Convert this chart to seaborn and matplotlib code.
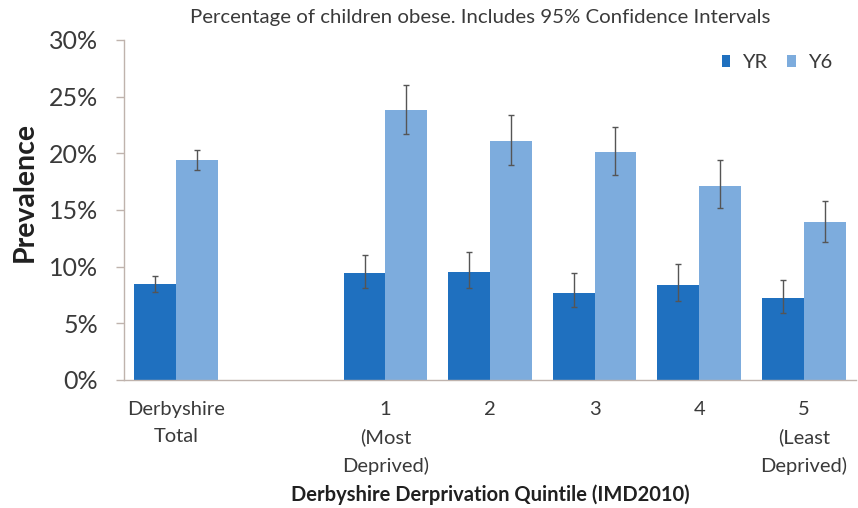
import numpy as np
import pandas as pd
import matplotlib
matplotlib.use("Agg")
import matplotlib.pyplot as plt
import seaborn as sns

# Obesity prevalence (%) by deprivation quintile, Reception (YR) and Year 6 (Y6)
categories = ["Derbyshire\nTotal", "", "1\n(Most\nDeprived)", "2", "3", "4", "5\n(Least\nDeprived)"]
yr_value = [8.5, np.nan, 9.4, 9.5, 7.7, 8.4, 7.2]
yr_low = [7.8, np.nan, 8.1, 8.1, 6.4, 7.0, 5.9]
yr_high = [9.2, np.nan, 11.0, 11.3, 9.4, 10.2, 8.8]
y6_value = [19.4, np.nan, 23.8, 21.1, 20.1, 17.1, 13.9]
y6_low = [18.5, np.nan, 21.7, 19.0, 18.1, 15.2, 12.2]
y6_high = [20.3, np.nan, 26.0, 23.4, 22.3, 19.4, 15.8]
groups = ["YR", "Y6"]
colors = {"YR": "#1f70bf", "Y6": "#7dacdd"}

sns.set_theme(style="white")
plt.rcParams["font.family"] = ["Lato", "DejaVu Sans"]
text_color = "#3a3a3a"

rows = []
for cat, a, b in zip(categories, yr_value, y6_value):
    if not np.isnan(a):
        rows.append({"category": cat, "group": "YR", "value": a})
        rows.append({"category": cat, "group": "Y6", "value": b})
df = pd.DataFrame(rows)

fig = plt.figure(figsize=(8.58, 5.08), dpi=100)
ax = fig.add_axes([0.1445, 0.252, 0.8532, 0.6695])

sns.barplot(data=df, x="category", y="value", hue="group", order=categories,
            hue_order=groups, palette=colors, errorbar=None, width=0.8,
            saturation=1, linewidth=0, ax=ax)

# 95% confidence intervals
pos = np.arange(len(categories))
for g, vals, lo, hi, off in [("YR", yr_value, yr_low, yr_high, -0.2),
                             ("Y6", y6_value, y6_low, y6_high, 0.2)]:
    v = np.array(vals)
    err = np.vstack([v - np.array(lo), np.array(hi) - v])
    ax.errorbar(pos + off, v, yerr=err, fmt="none", ecolor="#555555",
                elinewidth=1, capsize=2.5, capthick=1)

ax.set_ylim(0, 30)
ax.set_xlim(-0.5, len(categories) - 0.5)
ax.set_yticks([0, 5, 10, 15, 20, 25, 30])
ax.set_yticklabels([f"{t}%" for t in [0, 5, 10, 15, 20, 25, 30]],
                   fontsize=18, color=text_color)
ax.set_xticks(pos)
ax.set_xticklabels(categories, fontsize=14.5, color=text_color, linespacing=1.72,
                   va="top")
ax.set_xticks(np.arange(len(categories) + 1) - 0.5, minor=True)
ax.tick_params(axis="x", which="major", length=0, pad=15)
ax.tick_params(axis="x", which="minor", length=5, color="#bfb3ad", width=1)
ax.tick_params(axis="y", which="major", left=True, length=5.5, color="#bfb3ad",
               width=1, pad=13)

for side in ["top", "right"]:
    ax.spines[side].set_visible(False)
for side in ["left", "bottom"]:
    ax.spines[side].set_color("#bfb3ad")
    ax.spines[side].set_linewidth(1)

ax.set_ylabel("Prevalence", fontsize=20.5, fontweight="bold", color="#202020")
ax.yaxis.set_label_coords((38 - 124) / 732, 0.553)
ax.set_xlabel("Derbyshire Derprivation Quintile (IMD2010)", fontsize=14.5,
              fontweight="bold", color="#202020")
ax.xaxis.set_label_coords(0.5, (380 - 495) / 340, transform=ax.transAxes)
ax.xaxis.label.set_va("center")

leg = ax.legend(loc="upper right", bbox_to_anchor=(0.967, 0.958), ncol=2,
                frameon=False, fontsize=14.5, handlelength=0.4, handleheight=0.55,
                handletextpad=0.6, columnspacing=1.0, borderpad=0,
                borderaxespad=0)
for t in leg.get_texts():
    t.set_color(text_color)

fig.text(0.56, 1 - 17 / 508, "Percentage of children obese. Includes 95% Confidence Intervals",
         ha="center", va="center", fontsize=14.7, color=text_color)

fig.savefig("out.png", dpi=100)
